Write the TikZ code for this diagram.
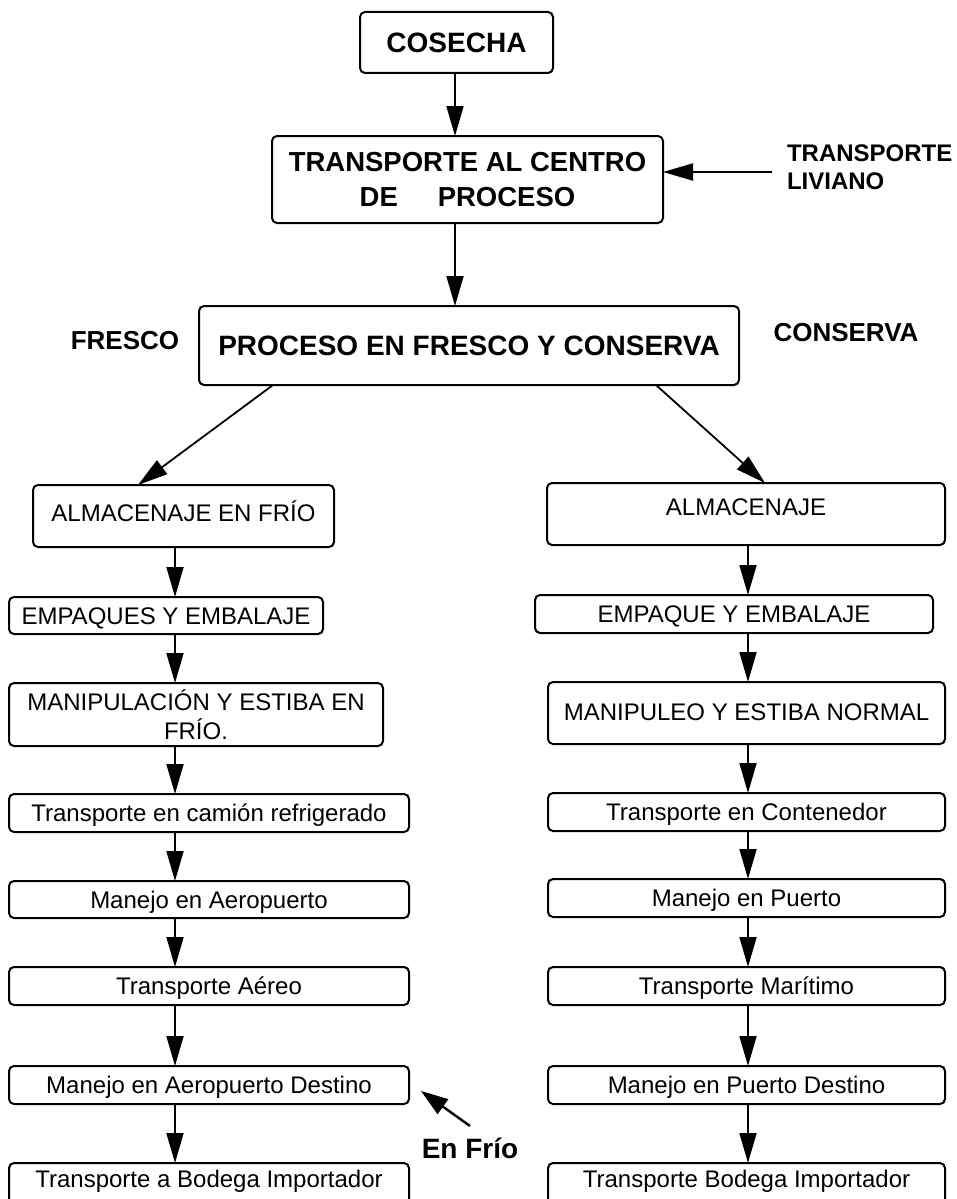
\documentclass[tikz,border=0pt]{standalone}
\usepackage{fontspec}
\setmainfont{Liberation Sans}
\usetikzlibrary{arrows.meta,calc}
\begin{document}
\begin{tikzpicture}[x=1pt,y=-1pt,
  every node/.style={inner sep=0pt, outer sep=0pt},
  box/.style={draw, line width=2pt, rounded corners=5pt},
  one/.style={text height=17.2pt, text depth=0pt},
  body/.style={font=\fontsize{24}{29}\selectfont},
  head/.style={font=\bfseries\fontsize{28}{35}\selectfont},
  tag/.style={font=\bfseries\fontsize{26}{28}\selectfont},
  arr/.style={line width=1.8pt, -{Triangle[length=30pt,width=17pt]}},
  arrsmall/.style={line width=2.4pt, -{Triangle[length=27pt,width=18pt]}},
]
\clip (0,0) rectangle (957,1199);
\fill[white] (0,0) rectangle (957,1199);

% upper chain
\node[box, head, text height=20pt, text depth=0pt, minimum width=193pt, minimum height=61pt] (cos) at (456.5,42.5) {COSECHA};
\node[box, head, font=\bfseries\fontsize{27.5}{35}\selectfont, align=center, minimum width=391pt, minimum height=87pt] (tr) at (467.5,179.5)
  {TRANSPORTE AL CENTRO\\DE\hspace{1.45em}PROCESO};
\node[tag, font=\bfseries\fontsize{24}{28}\selectfont, align=left, anchor=west] (liv) at (787,167) {TRANSPORTE\\LIVIANO};
\node[box, head, text height=20pt, text depth=0pt, minimum width=540pt, minimum height=79pt] (pr) at (469,345.5) {PROCESO EN FRESCO Y CONSERVA};
\node[tag, text height=18.6pt, text depth=0pt] (fr) at (125,340) {FRESCO};
\node[tag, text height=18.6pt, text depth=0pt] (co) at (846,332) {CONSERVA};

% fresh-produce column
\node[box, body, one, text depth=6pt, minimum width=301pt, minimum height=62pt] (l1) at (183.5,516) {ALMACENAJE EN FRÍO};
\node[box, body, one, minimum width=314pt, minimum height=37pt] (l2) at (166,615.5) {EMPAQUES Y EMBALAJE};
\node[box, body, align=center, minimum width=374pt, minimum height=63pt] (l3) at (196,714.5) {MANIPULACIÓN Y ESTIBA EN\\FRÍO.};
\node[box, body, one, minimum width=400pt, minimum height=38pt] (l4) at (209,813) {Transporte en camión refrigerado};
\node[box, body, one, minimum width=400pt, minimum height=37pt] (l5) at (209,899.5) {Manejo en Aeropuerto};
\node[box, body, one, minimum width=400pt, minimum height=38pt] (l6) at (209,986) {Transporte Aéreo};
\node[box, body, one, minimum width=400pt, minimum height=38pt] (l7) at (209,1085) {Manejo en Aeropuerto Destino};
\node[box, body, one, text depth=20pt, minimum width=400pt, minimum height=52pt] (l8) at (209,1189) {Transporte a Bodega Importador};

% preserved-produce column
\node[box, body, one, text depth=14pt, minimum width=398pt, minimum height=62pt] (r1) at (746,514) {ALMACENAJE};
\node[box, body, one, minimum width=398pt, minimum height=38pt] (r2) at (734,614) {EMPAQUE Y EMBALAJE};
\node[box, body, one, text depth=2pt, minimum width=397pt, minimum height=62pt] (r3) at (746.5,713) {MANIPULEO Y ESTIBA NORMAL};
\node[box, body, one, minimum width=397pt, minimum height=38pt] (r4) at (746.5,812) {Transporte en Contenedor};
\node[box, body, one, minimum width=397pt, minimum height=38pt] (r5) at (746.5,898) {Manejo en Puerto};
\node[box, body, one, minimum width=397pt, minimum height=38pt] (r6) at (746.5,986) {Transporte Marítimo};
\node[box, body, one, minimum width=397pt, minimum height=38pt] (r7) at (746.5,1085) {Manejo en Puerto Destino};
\node[box, body, one, text depth=20pt, minimum width=397pt, minimum height=52pt] (r8) at (746.5,1189) {Transporte Bodega Importador};

\node[tag, font=\bfseries\fontsize{28}{30}\selectfont, text height=20pt, text depth=0pt] (ef) at (470,1148) {En Frío};

% guide positions for the connectors
\coordinate (cm) at (455,0);
\coordinate (cl) at (175,0);
\coordinate (cr) at (748,0);
\coordinate (dl0) at (273,0);
\coordinate (dl1) at (138,0);
\coordinate (dr0) at (656,0);
\coordinate (dr1) at (765,0);
\coordinate (lv) at (772,172);
\coordinate (efa) at (470,1126);
\coordinate (efb) at (421,1091);

\draw[arr] (cos.south -| cm) -- (tr.north -| cm);
\draw[arr] (lv) -- (lv -| tr.east);
\draw[arr] (tr.south -| cm) -- (pr.north -| cm);
\draw[arr] (pr.south -| dl0) -- (l1.north -| dl1);
\draw[arr] (pr.south -| dr0) -- (r1.north -| dr1);

\foreach \a/\b in {l1/l2,l2/l3,l3/l4,l4/l5,l5/l6,l6/l7,l7/l8}
  \draw[arr] (\a.south -| cl) -- (\b.north -| cl);
\foreach \a/\b in {r1/r2,r2/r3,r3/r4,r4/r5,r5/r6,r6/r7,r7/r8}
  \draw[arr] (\a.south -| cr) -- (\b.north -| cr);

\draw[arrsmall] (efa) -- (efb);
\end{tikzpicture}
\end{document}
